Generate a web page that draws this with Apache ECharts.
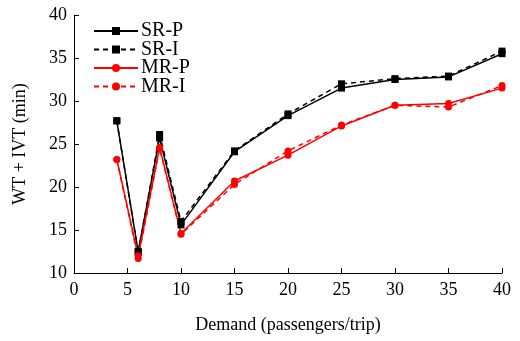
<!DOCTYPE html>
<html>
<head>
<meta charset="utf-8">
<script src="https://cdn.jsdelivr.net/npm/echarts@6/dist/echarts.min.js"></script>
<style>html,body{margin:0;padding:0;background:#fff}#c{width:520px;height:341px}</style>
</head>
<body>
<div id="c"></div>
<script>
var demand = [4, 6, 8, 10, 15, 20, 25, 30, 35, 40];
var srP = [27.7, 12.5, 25.7, 15.6, 24.1, 28.3, 31.5, 32.5, 32.8, 35.5];
var srI = [27.7, 12.4, 26.1, 16.0, 24.2, 28.5, 32.0, 32.6, 32.9, 35.8];
var mrP = [23.2, 12.0, 24.6, 14.6, 20.7, 23.7, 27.1, 29.5, 29.7, 31.5];
var mrI = [23.2, 11.7, 24.5, 14.5, 20.3, 24.2, 27.2, 29.5, 29.3, 31.8];
var xTicks = [0, 5, 10, 15, 20, 25, 30, 35, 40];
var yTicks = [10, 15, 20, 25, 30, 35, 40];

function pairs(vals){ return demand.map(function(d,i){ return [d, vals[i]]; }); }
var font = 'Liberation Serif';
function mk(name, vals, color, dashed, symbol, size){
  return {
    name: name, type: 'line', data: pairs(vals),
    symbol: symbol, symbolSize: size,
    itemStyle: {color: color},
    lineStyle: {color: color, width: 1.5, type: dashed ? [5, 4] : 'solid'},
    animation: false
  };
}
var chart = echarts.init(document.getElementById('c'));
chart.setOption({
  backgroundColor: '#fff',
  grid: {left: 74, right: 18, top: 15, bottom: 68},
  legend: {
    orient: 'vertical', left: 88, top: 16,
    itemWidth: 44, itemHeight: 10, itemGap: -1.5,
    textStyle: {fontFamily: font, fontSize: 20, color: '#000', padding: [0,0,0,-2]},
    data: ['SR-P', 'SR-I', 'MR-P', 'MR-I']
  },
  xAxis: {
    type: 'value', min: 0, max: 40, interval: 5,
    name: 'Demand (passengers/trip)', nameLocation: 'middle', nameGap: 43,
    nameTextStyle: {fontFamily: font, fontSize: 18, color: '#000'},
    axisLine: {lineStyle: {color: '#000', width: 1}},
    axisTick: {inside: true, length: 5, lineStyle: {color: '#000'}},
    axisLabel: {fontFamily: font, fontSize: 18, color: '#000', margin: 8,
      formatter: function(v){ return xTicks.indexOf(v) >= 0 ? String(v) : ''; }},
    splitLine: {show: false}
  },
  yAxis: {
    type: 'value', min: 10, max: 40, interval: 5,
    name: 'WT + IVT (min)', nameLocation: 'middle', nameGap: 45,
    nameTextStyle: {fontFamily: font, fontSize: 18, color: '#000'},
    axisLine: {show: true, lineStyle: {color: '#000', width: 1}},
    axisTick: {show: true, inside: true, length: 5, lineStyle: {color: '#000'}},
    axisLabel: {fontFamily: font, fontSize: 18, color: '#000', margin: 7,
      formatter: function(v){ return yTicks.indexOf(v) >= 0 ? String(v) : ''; }},
    splitLine: {show: false}
  },
  series: [
    mk('SR-P', srP, '#000000', false, 'rect', 7),
    mk('SR-I', srI, '#000000', true, 'rect', 7),
    mk('MR-P', mrP, '#ff0000', false, 'circle', 7),
    mk('MR-I', mrI, '#ff0000', true, 'circle', 7)
  ]
});
</script>
</body>
</html>
